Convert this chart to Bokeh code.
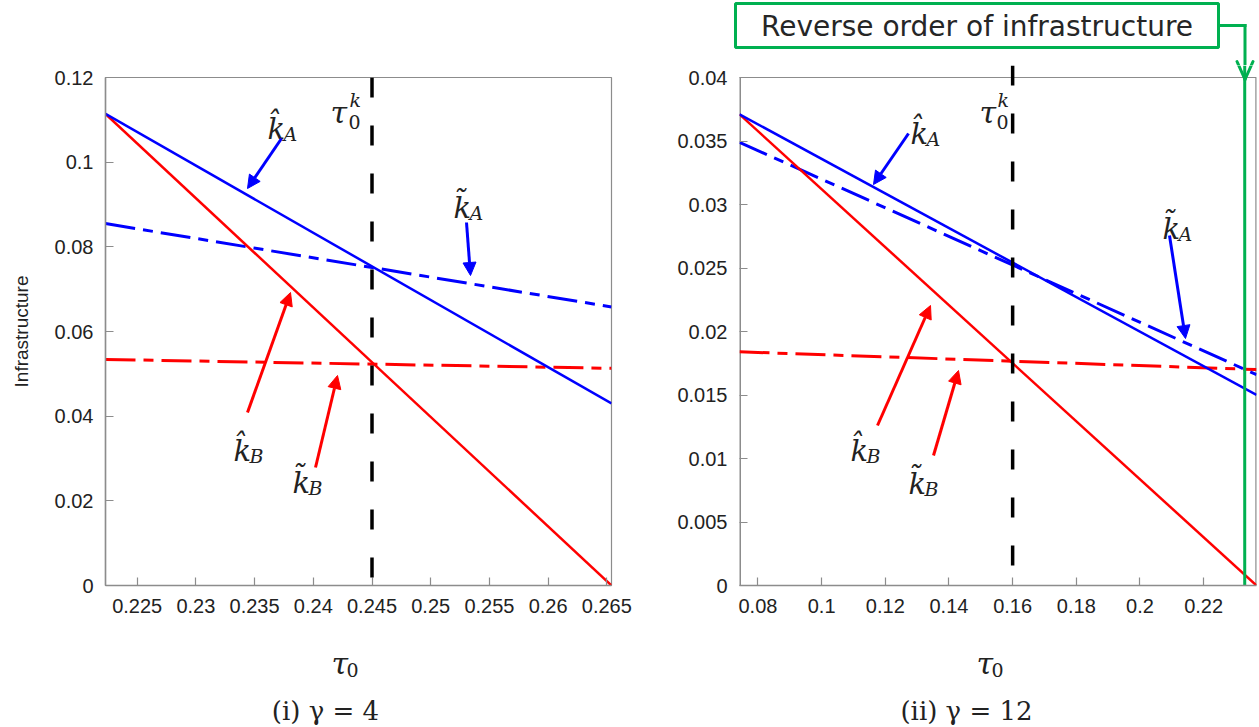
from bokeh.plotting import figure
from bokeh.layouts import row, column
from bokeh.models import (Range1d, FixedTicker, CustomJSTickFormatter, Label,
                          Arrow, NormalHead, Span, BoxAnnotation)
from bokeh.embed import file_html
from bokeh.resources import INLINE

# ---------------- data: panel (i) gamma = 4 ----------------
tau0_i = [0.2223, 0.2654]
k_hat_A_i = [0.1114, 0.0430]
k_hat_B_i = [0.1114, 0.0]
k_til_A_i = [0.0855, 0.0658]
k_til_B_i = [0.0534, 0.0513]
tau0k_i = [0.245]
xticks_i = [0.225, 0.23, 0.235, 0.24, 0.245, 0.25, 0.255, 0.26, 0.265]
yticks_i = [0, 0.02, 0.04, 0.06, 0.08, 0.1, 0.12]
yrange_i = [0, 0.12]

# ---------------- data: panel (ii) gamma = 12 ----------------
tau0_ii = [0.0742, 0.2366]
k_hat_A_ii = [0.0371, 0.0150]
k_hat_B_ii = [0.0371, 0.0]
k_til_A_ii = [0.0349, 0.0166]
k_til_B_ii = [0.0184, 0.0170]
tau0k_ii = [0.16]
tau_reverse_ii = [0.2329]
xticks_ii = [0.08, 0.1, 0.12, 0.14, 0.16, 0.18, 0.2, 0.22]
yticks_ii = [0, 0.005, 0.01, 0.015, 0.02, 0.025, 0.03, 0.035, 0.04]
yrange_ii = [0, 0.04]

captions = ["(i) γ = 4", "(ii) γ = 12"]
box_text = "Reverse order of infrastructure"

BLUE = "#0000ff"
RED = "#ff0000"
GREEN = "#00b050"
GREY = "#8c8c8c"
TXT = "#222222"
SERIF = "DejaVu Serif"
SANS = "Liberation Sans"
W, H = 1259, 727
TOP, BOTTOM = 77, 585          # frame top / bottom (canvas px)
HEAD_H = 65                    # height of the strip above the plots
FOOT_Y = 630                   # where the strip below the plots starts
PLOT_H = FOOT_Y - HEAD_H


def style_axes(p, xticks, yticks, ylabel=None):
    p.grid.visible = False
    p.background_fill_color = "white"
    p.border_fill_color = "white"
    fmt = CustomJSTickFormatter(code="return String(parseFloat(tick.toFixed(6)));")
    for ax, ticks in ((p.xaxis[0], xticks), (p.yaxis[0], yticks)):
        ax.ticker = FixedTicker(ticks=ticks)
        ax.formatter = fmt
        ax.axis_line_color = GREY
        ax.axis_line_width = 1.5
        ax.major_tick_line_color = GREY
        ax.major_tick_line_width = 1.2
        ax.major_tick_in = 8
        ax.major_tick_out = 0
        ax.minor_tick_line_color = None
        ax.major_label_text_font = SANS
        ax.major_label_text_font_size = "20px"
        ax.major_label_text_color = TXT
    p.xaxis[0].major_label_standoff = 13
    p.yaxis[0].major_label_standoff = 12
    if ylabel:
        p.yaxis[0].axis_label = ylabel
        p.yaxis[0].axis_label_text_font = SANS
        p.yaxis[0].axis_label_text_font_size = "19px"
        p.yaxis[0].axis_label_text_font_style = "normal"
        p.yaxis[0].axis_label_text_color = TXT
        p.yaxis[0].axis_label_standoff = 20


def converter(fx0, fx1, xr, yr):
    def conv(px, py):
        x = xr[0] + (px - fx0) * (xr[1] - xr[0]) / (fx1 - fx0)
        y = yr[0] + (BOTTOM - py) * (yr[1] - yr[0]) / (BOTTOM - TOP)
        return x, y
    return conv


def pix(px, py):
    return px, py


def put(p, conv, px, py, text, size, color=TXT, style="italic", align="left",
        baseline="alphabetic", font=SERIF):
    x, y = conv(px, py)
    p.add_layout(Label(x=x, y=y, text=text, text_font=font, text_font_size=f"{size}px",
                       text_font_style=style, text_color=color, text_align=align,
                       text_baseline=baseline))


def seg(p, conv, a, b, color, width=3, cap="butt"):
    xa, ya = conv(*a)
    xb, yb = conv(*b)
    p.add_layout(Arrow(x_start=xa, y_start=ya, x_end=xb, y_end=yb, end=None,
                       line_color=color, line_width=width, line_cap=cap))


def klabel(p, conv, px, py, main, sub):
    put(p, conv, px, py, main, 29)
    put(p, conv, px + 16, py + 5, sub, 19)


def arrow(p, conv, p0, p1, color):
    x0, y0 = conv(*p0)
    x1, y1 = conv(*p1)
    p.add_layout(Arrow(x_start=x0, y_start=y0, x_end=x1, y_end=y1,
                       line_color=color, line_width=3,
                       end=NormalHead(size=13, fill_color=color, line_color=color, line_width=1)))


def draw_lines(p, tau, khA, khB, ktA, ktB, tk):
    p.add_layout(Span(location=tk[0], dimension="height", line_color="black",
                      line_width=3.5, line_dash="20 28"))
    p.line(tau, ktB, line_color=RED, line_width=3, line_dash="30 8 10 8")
    p.line(tau, ktA, line_color=BLUE, line_width=3, line_dash="30 8 10 8")
    p.line(tau, khB, line_color=RED, line_width=2.5)
    p.line(tau, khA, line_color=BLUE, line_width=2.5)


def strip(width, height, y_top, y_bottom):
    s = figure(width=width, height=height, x_range=Range1d(0, width),
               y_range=Range1d(y_bottom, y_top),
               output_backend="svg", toolbar_location=None, min_border=0,
               min_border_left=0, min_border_right=0, min_border_top=0, min_border_bottom=0,
               x_axis_location=None, y_axis_location=None)
    s.frame_align = False
    s.outline_line_color = None
    s.grid.visible = False
    s.background_fill_color = "white"
    s.border_fill_color = "white"
    return s


# ---------------- panel (i) ----------------
p1 = figure(width=660, height=PLOT_H, x_range=Range1d(*tau0_i), y_range=Range1d(*yrange_i),
            output_backend="svg", toolbar_location=None,
            min_border_left=105, min_border_right=49,
            min_border_top=TOP - HEAD_H, min_border_bottom=FOOT_Y - BOTTOM)
p1.frame_align = False
p1.outline_line_color = GREY
p1.outline_line_width = 1.2
style_axes(p1, xticks_i, yticks_i, ylabel="Infrastructure")
c1 = converter(105, 611, tau0_i, yrange_i)
draw_lines(p1, tau0_i, k_hat_A_i, k_hat_B_i, k_til_A_i, k_til_B_i, tau0k_i)

klabel(p1, c1, 267, 128, "k\u0302", "A")
klabel(p1, c1, 453, 207, "k\u0303", "A")
klabel(p1, c1, 233, 450, "k\u0302", "B")
klabel(p1, c1, 292, 482, "k\u0303", "B")
arrow(p1, c1, (281, 138), (247, 188), BLUE)
arrow(p1, c1, (466, 222), (470, 275), BLUE)
arrow(p1, c1, (247, 412), (290, 292), RED)
arrow(p1, c1, (315, 467), (337, 375), RED)
put(p1, c1, 330, 112, "τ", 30)
put(p1, c1, 349, 99, "k", 19)
put(p1, c1, 348, 121, "0", 19, style="normal")

# ---------------- panel (ii) ----------------
# frame reaches up to the head strip so the green marker can run into it
c2 = converter(739, 1256, tau0_ii, yrange_ii)
_, ytop2 = c2(0, HEAD_H)
p2 = figure(width=599, height=PLOT_H, x_range=Range1d(*tau0_ii), y_range=Range1d(yrange_ii[0], ytop2),
            output_backend="svg", toolbar_location=None,
            min_border_left=79, min_border_right=3,
            min_border_top=0, min_border_bottom=FOOT_Y - BOTTOM)
p2.frame_align = False
p2.outline_line_color = None
style_axes(p2, xticks_ii, yticks_ii)
p2.yaxis[0].axis_line_color = None
# visible frame: top edge at 0.04, side edges
p2.line([tau0_ii[0], tau0_ii[1]], [yrange_ii[1], yrange_ii[1]], line_color=GREY, line_width=1.2)
p2.line([tau0_ii[0], tau0_ii[0]], [yrange_ii[0], yrange_ii[1]], line_color=GREY, line_width=3)
p2.line([tau0_ii[1], tau0_ii[1]], [yrange_ii[0], yrange_ii[1]], line_color=GREY, line_width=2.4)
draw_lines(p2, tau0_ii, k_hat_A_ii, k_hat_B_ii, k_til_A_ii, k_til_B_ii, tau0k_ii)
# green marker of the reversed order (runs through the whole frame)
p2.line([tau_reverse_ii[0], tau_reverse_ii[0]], [yrange_ii[0], ytop2], line_color=GREEN, line_width=3)

klabel(p2, c2, 910, 133, "k\u0302", "A")
klabel(p2, c2, 1162, 228, "k\u0303", "A")
klabel(p2, c2, 850, 450, "k\u0302", "B")
klabel(p2, c2, 908, 483, "k\u0303", "B")
arrow(p2, c2, (908, 133), (873, 184), BLUE)
arrow(p2, c2, (1169, 235), (1185, 338), BLUE)
arrow(p2, c2, (877, 425), (930, 305), RED)
arrow(p2, c2, (933, 455), (958, 370), RED)
put(p2, c2, 979, 112, "τ", 30)
put(p2, c2, 997, 99, "k", 19)
put(p2, c2, 996, 121, "0", 19, style="normal")

# green arrow head: drawn as a "V" in both panel (ii) and the head strip
GX_PX = 1244.5
TIP_Y, ARM_Y, ARM_DX = 79, 61, 8
seg(p2, c2, (GX_PX - ARM_DX, ARM_Y), (GX_PX, TIP_Y), GREEN, 3, "round")
seg(p2, c2, (GX_PX + ARM_DX, ARM_Y), (GX_PX, TIP_Y), GREEN, 3, "round")

# ---------------- head strip: green box + connector ----------------
ph = strip(W, HEAD_H, 0, HEAD_H)
bx0, bx1, by0, by1 = 735, 1218, 3, 47
ph.add_layout(BoxAnnotation(left=bx0, right=bx1, top=by0, bottom=by1,
                            fill_color=None, fill_alpha=0,
                            line_color=GREEN, line_alpha=1.0, line_width=3))
put(ph, pix, (bx0 + bx1) / 2, (by0 + by1) / 2 + 1, box_text, 28, color="#262626",
    style="normal", align="center", baseline="middle", font="DejaVu Sans")
seg(ph, pix, (bx1, 25), (GX_PX, 25), GREEN, 3, "square")
seg(ph, pix, (GX_PX, 25), (GX_PX, HEAD_H), GREEN, 3, "square")
seg(ph, pix, (GX_PX - ARM_DX, ARM_Y), (GX_PX, TIP_Y), GREEN, 3, "round")
seg(ph, pix, (GX_PX + ARM_DX, ARM_Y), (GX_PX, TIP_Y), GREEN, 3, "round")

# ---------------- foot strip: axis titles and captions ----------------
pf = strip(1180, H - FOOT_Y, FOOT_Y, H)
put(pf, pix, 331, 663, "τ", 30)
put(pf, pix, 346, 669, "0", 19, style="normal")
put(pf, pix, 325, 710, captions[0], 26, style="normal", align="center", baseline="middle")
put(pf, pix, 976, 663, "τ", 30)
put(pf, pix, 991, 669, "0", 19, style="normal")
put(pf, pix, 966, 710, captions[1], 26, style="normal", align="center", baseline="middle")

layout = column(ph, row(p1, p2, spacing=0), pf, spacing=0)
open("out.html", "w").write(file_html(layout, INLINE))
